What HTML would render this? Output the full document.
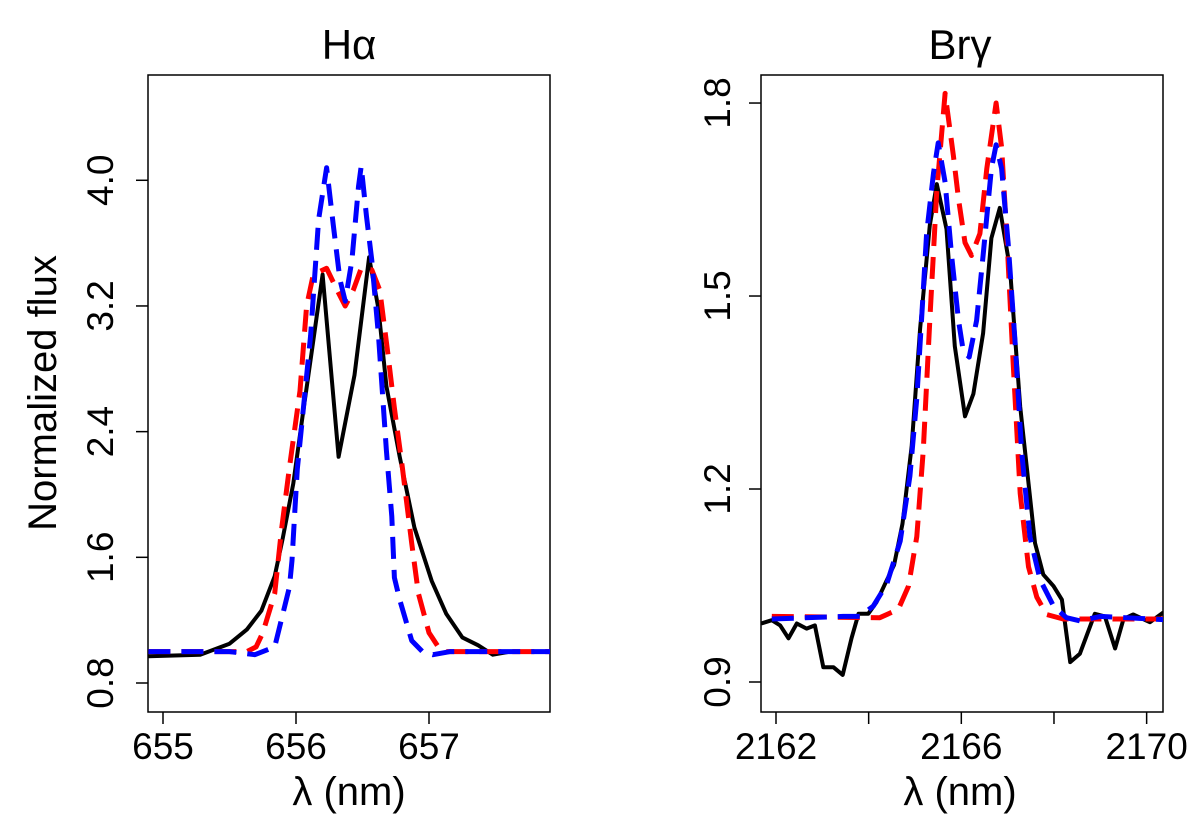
<!DOCTYPE html>
<html><head><meta charset="utf-8"><style>
body{margin:0;background:#fff}
svg{display:block;font-family:"Liberation Sans",sans-serif}
</style></head><body>
<svg id="c" width="1200" height="827" viewBox="0 0 1200 827">
<defs>
<clipPath id="cl"><rect x="148" y="75" width="402" height="637"/></clipPath>
<clipPath id="cr"><rect x="761" y="75" width="402" height="637"/></clipPath>
</defs>
</svg>
<script>
// Hα panel data
const haWl = [654.89,655.28,655.5,655.63,655.74,655.84,655.9,655.98,656.05,656.12,656.2,656.32,656.44,656.55,656.62,656.68,656.78,656.89,657.02,657.13,657.25,657.37,657.48,657.61,657.91];
const haObs = [0.97,0.98,1.05,1.14,1.26,1.48,1.72,2.07,2.5,2.92,3.40,2.24,2.76,3.51,3.18,2.69,2.24,1.79,1.45,1.24,1.09,1.04,0.98,1.0,1.0];
const haRedWl = [654.89,655.63,655.7,655.75,655.84,655.89,655.95,656.03,656.08,656.13,656.23,656.31,656.37,656.43,656.49,656.57,656.63,656.69,656.74,656.8,656.87,656.92,657.0,657.07,657.13,657.91];
const haRed = [1.0,1.0,1.03,1.12,1.37,1.77,2.17,2.66,3.2,3.40,3.44,3.30,3.20,3.30,3.44,3.43,3.30,2.90,2.55,2.17,1.69,1.37,1.12,1.03,1.0,1.0];
const haBlueWl = [654.89,655.5,655.69,655.84,655.95,655.97,655.99,656.01,656.11,656.17,656.23,656.28,656.33,656.37,656.42,656.47,656.49,656.53,656.57,656.62,656.68,656.72,656.74,656.78,656.87,656.95,657.03,657.16,657.91];
const haBlue = [1.0,1.0,0.98,1.03,1.41,1.58,1.88,2.16,3.01,3.75,4.08,3.72,3.37,3.23,3.49,3.96,4.09,3.77,3.49,3.01,2.28,1.86,1.47,1.33,1.07,1.0,0.98,1.0,1.0];
const haYTicks = [0.8,1.6,2.4,3.2,4.0];
const haYTickLabels = ["0.8","1.6","2.4","3.2","4.0"];
const haXTicks = [655,656,657];
// Brγ panel data
const brWl = [2161.68,2161.91,2162.09,2162.27,2162.45,2162.66,2162.84,2163.02,2163.24,2163.44,2163.63,2163.78,2163.99,2164.17,2164.35,2164.55,2164.73,2164.93,2165.11,2165.32,2165.47,2165.68,2165.86,2166.08,2166.26,2166.47,2166.65,2166.83,2167.05,2167.27,2167.59,2167.77,2167.99,2168.17,2168.35,2168.56,2168.88,2169.1,2169.32,2169.5,2169.71,2170.07,2170.36];
const brObs = [0.991,0.996,0.988,0.968,0.991,0.983,0.988,0.923,0.923,0.911,0.968,1.006,1.006,1.024,1.052,1.082,1.146,1.267,1.449,1.610,1.674,1.604,1.422,1.313,1.348,1.442,1.590,1.637,1.543,1.328,1.116,1.067,1.049,1.028,0.931,0.944,1.006,1.002,0.952,0.998,1.005,0.993,1.008];
const brRedWl = [2161.91,2164.24,2164.64,2164.86,2165.04,2165.18,2165.32,2165.47,2165.65,2165.83,2165.94,2166.08,2166.22,2166.4,2166.55,2166.75,2166.87,2166.98,2167.12,2167.27,2167.45,2167.63,2167.84,2168.2,2170.36];
const brRed = [1.002,1.0,1.013,1.049,1.126,1.261,1.462,1.664,1.815,1.718,1.651,1.583,1.563,1.597,1.698,1.8,1.731,1.597,1.395,1.193,1.079,1.032,1.005,0.998,0.998];
const brBlueWl = [2161.91,2163.45,2163.81,2164.1,2164.39,2164.68,2164.89,2165.04,2165.14,2165.25,2165.4,2165.5,2165.65,2165.79,2165.94,2166.04,2166.17,2166.33,2166.47,2166.65,2166.75,2166.87,2167.01,2167.16,2167.3,2167.48,2167.7,2167.99,2168.27,2168.56,2169.0,2170.36];
const brBlue = [0.998,1.002,1.002,1.018,1.052,1.119,1.22,1.341,1.462,1.597,1.691,1.738,1.677,1.563,1.462,1.415,1.405,1.462,1.563,1.698,1.735,1.698,1.583,1.428,1.261,1.126,1.059,1.018,1.0,0.995,1.002,0.997];
const brYTicks = [0.9,1.2,1.5,1.8];
const brYTickLabels = ["0.9","1.2","1.5","1.8"];
const brXTicks = [2162,2164,2166,2168,2170];
const brXTickLabels = ["2162","","2166","","2170"];

const NS="http://www.w3.org/2000/svg";
const svg=document.getElementById('c');
function mk(tag,attrs,parent){const e=document.createElementNS(NS,tag);for(const k in attrs)e.setAttribute(k,attrs[k]);(parent||svg).appendChild(e);return e;}

function panel(o){
  const g=mk('g',{});
  
  
  const xs=v=>o.x0+(v-o.xv0)*o.xk, ys=v=>o.y0-(v-o.yv0)*o.yk;
  const t=mk('text',{x:o.cx,y:59,'font-size':42,'text-anchor':'middle'},g);t.textContent=o.title;
  
  
  const box=mk('rect',{x:o.L,y:75,width:o.R-o.L,height:637,fill:'none',stroke:'#000','stroke-width':1.5},g);
  
  
  o.yt.forEach((v,i)=>{const y=ys(v);
    mk('line',{x1:o.L-12,x2:o.L,y1:y,y2:y,stroke:'#000','stroke-width':1.5},g);
    const l=mk('text',{x:0,y:0,'font-size':37,'text-anchor':'middle',transform:`translate(${o.L-o.yoff},${y}) rotate(-90)`},g);
    l.textContent=o.ytl[i];
    
    
  });
  o.xt.forEach((v,i)=>{const x=xs(v);
    mk('line',{x1:x,x2:x,y1:712,y2:724,stroke:'#000','stroke-width':1.5},g);
    if(o.xtl[i]){const l=mk('text',{x:x,y:759,'font-size':37,'text-anchor':'middle'},g);l.textContent=o.xtl[i];
    
    }
  });
  const xl=mk('text',{x:o.cx,y:805,'font-size':40,'text-anchor':'middle'},g);xl.textContent='λ (nm)';
  
  
  const series=[[o.obsWl,o.obs,'#000',null,'observed'],[o.redWl,o.red,'#f00','22 11','red-model'],[o.blueWl,o.blue,'#00f','22 11','blue-model']];
  series.forEach(s=>{
    const p=s[0].map((w,i)=>xs(w).toFixed(1)+','+ys(s[1][i]).toFixed(1)).join(' ');
    const a={points:p,fill:'none',stroke:s[2],'stroke-width':s[3]?5:4,'stroke-linejoin':'round','clip-path':`url(#${o.clip})`};
    if(s[3])a['stroke-dasharray']=s[3];
    const pl=mk('polyline',a,g);
    
    
  });
}
panel({name:'halpha',title:'Hα',cx:349,L:148,R:550,x0:163,xv0:655,xk:133,y0:683,yv0:0.8,yk:157.1,yoff:35,
  yt:haYTicks,ytl:haYTickLabels,xt:haXTicks,xtl:haXTicks.map(String),clip:'cl',
  obsWl:haWl,obs:haObs,redWl:haRedWl,red:haRed,blueWl:haBlueWl,blue:haBlue});
panel({name:'brgamma',title:'Brγ',cx:960,L:761,R:1163,x0:776,xv0:2162,xk:46.33,y0:682,yv0:0.9,yk:643.3,yoff:31,
  yt:brYTicks,ytl:brYTickLabels,xt:brXTicks,xtl:brXTickLabels,clip:'cr',
  obsWl:brWl,obs:brObs,redWl:brRedWl,red:brRed,blueWl:brBlueWl,blue:brBlue});
const yt=mk('text',{x:0,y:0,'font-size':40,'text-anchor':'middle',transform:'translate(56,393) rotate(-90)'});
yt.textContent='Normalized flux';


</script>
</body></html>
